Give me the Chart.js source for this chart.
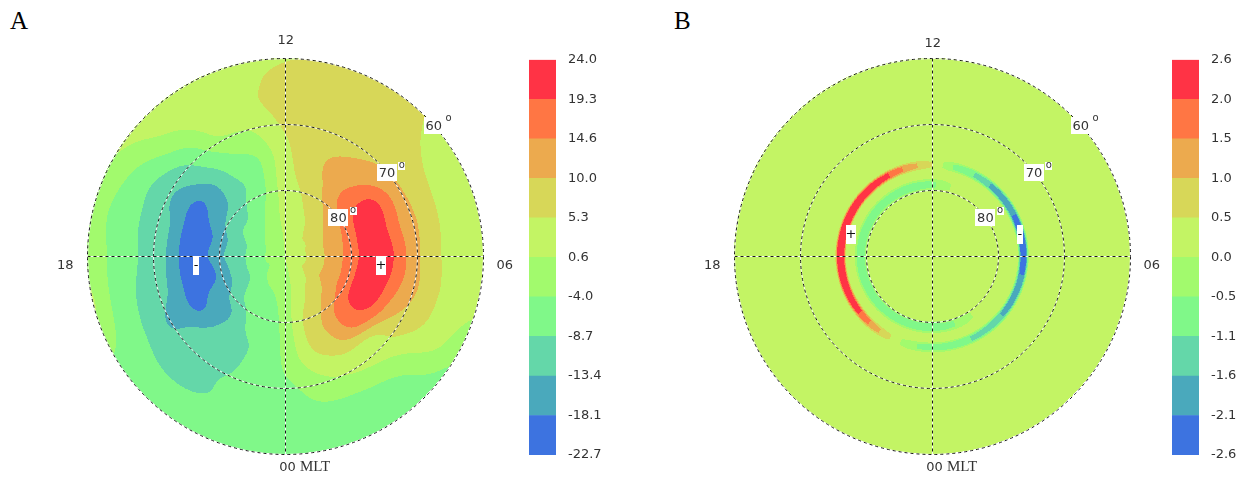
<!DOCTYPE html>
<html>
<head>
<meta charset="utf-8">
<script src="https://cdn.jsdelivr.net/npm/chart.js@4.4.1/dist/chart.umd.min.js"></script>
<style>
  body { margin: 0; background: #fff; width: 1238px; height: 481px; position: relative; overflow: hidden; }
  .holder { position: absolute; }
  .letter { position: absolute; font-family: "Liberation Serif", serif; font-size: 25px; color: #000; line-height: 1; }
</style>
</head>
<body>
<div class="letter" style="left:10px;top:8px">A</div>
<div class="letter" style="left:674px;top:8px">B</div>
<div class="holder" style="left:45px;top:0"><canvas id="mapA" width="480" height="481"></canvas></div>
<div class="holder" style="left:692px;top:0"><canvas id="mapB" width="480" height="481"></canvas></div>
<div class="holder" style="left:529px;top:40px"><canvas id="barA" width="77" height="440"></canvas></div>
<div class="holder" style="left:1172px;top:40px"><canvas id="barB" width="66" height="440"></canvas></div>
<script>
// --- data ---------------------------------------------------------------
const mltHours = [0, 1, 2, 3, 4, 5, 6, 7, 8, 9, 10, 11, 12, 13, 14, 15, 16, 17, 18, 19, 20, 21, 22, 23];

// panel A: potential, one row per colatitude ring (deg from pole), 24 MLT values each
const colatA = [0, 3, 6, 9, 12, 15, 18, 21, 24, 27, 30];
const potA = [
  [0.6, 0.6, 0.6, 0.6, 0.6, 0.6, 0.6, 0.6, 0.6, 0.6, 0.6, 0.6, 0.6, 0.6, 0.6, 0.6, 0.6, 0.6, 0.6, 0.6, 0.6, 0.6, 0.6, 0.6],
  [-1, 1, 3, 4, 5.3, 5, 5, 5, 4.5, 4.5, 3.5, 2.5, 1.5, -1, -1, -2.5, -3.5, -4, -4, -4, -4.5, -3, -2, -1.5],
  [-1.5, 2, 5.3, 7, 10, 10, 10, 10, 9, 7.5, 5.3, 3.5, 2.5, -1.5, -4, -6, -7, -8.7, -8.7, -8.7, -8.5, -6.5, -5, -4],
  [-2, 4.5, 8, 12, 14.6, 15, 15, 14.6, 13.5, 11, 8, 5, 3, -3, -6, -10, -11, -13.4, -13, -14, -13, -9, -7, -6],
  [-2.5, 5.5, 10.5, 16.5, 20.5, 21, 20.5, 20.5, 19.5, 15.5, 10.5, 6.5, 3.5, -4, -8.7, -13, -16, -19, -18.5, -20, -16, -14, -8.7, -7],
  [-3, 4.5, 9, 15, 19.5, 21, 22, 21, 21, 14.6, 12, 7.5, 4, -4, -7, -13.5, -19, -20, -20, -20, -19, -13.4, -10, -7.5],
  [-4, 1, 4, 4.5, 11, 14.6, 15.5, 14.6, 15, 11.5, 9.5, 7.6, 5, -1, -4, -10, -15, -13.5, -13.5, -14, -15, -11, -10, -7],
  [-6, -2, 0, 2, 7, 9.5, 9, 9.5, 9, 9, 8, 8, 6.5, 2, 0.6, -7, -11, -11, -10, -11, -13, -11, -9, -7],
  [-6.5, -5, -4.5, -2.5, 4, 5.3, 5, 5.3, 5.8, 7.5, 7.6, 8, 7.5, 4, 2.5, -2, -7, -7, -7, -8, -9, -10, -8.7, -6.5],
  [-6.5, -6, -6, -5, 1, 3, 3, 3, 3.5, 6, 7, 7, 7, 3.5, 3, 1.5, -3, -4.5, -4, -4.5, -6, -7, -7, -6],
  [-6, -6, -5, -6, -3, 1.5, 2, 2.5, 2.5, 5.3, 6, 5.5, 5, 2.5, 2.5, 2.5, 0.5, -2, -1, 1, -4, -6, -6, -6]
];
const levelsA = [-22.7, -18.1, -13.4, -8.7, -4.0, 0.6, 5.3, 10.0, 14.6, 19.3, 24.0];

// panel B: flat background with a thin inner ring and an outer arc pair
const colatB = [0, 9.8, 10.4, 11.2, 11.8, 13.0, 13.5, 14.2, 14.7, 30];
const backB = [0.2, 0.2, 0.2, 0.2, 0.2, 0.2, 0.2, 0.2, 0.2, 0.2, 0.2, 0.2, 0.2, 0.2, 0.2, 0.2, 0.2, 0.2, 0.2, 0.2, 0.2, 0.2, 0.2, 0.2];
const ringB = [-0.8, -0.6, -0.1, 0.2, 0.2, 0.2, 0.2, 0.2, 0.2, 0.2, 0.2, 0.0, -0.6, -0.8, -0.8, -0.8, -0.85, -0.9, -0.9, -0.9, -0.85, -0.8, -0.8, -0.8];
const arcB = [-0.7, -0.9, -1.2, -1.5, -1.8, -2.0, -2.5, -2.5, -2.0, -1.8, -1.2, -0.6, 0.5, 1.3, 2.1, 2.7, 3.0, 3.0, 3.0, 2.8, 2.4, 1.6, 0.7, -0.3];
const potB = [backB, backB, ringB, ringB, backB, backB, arcB, arcB, backB, backB];
const levelsB = [-2.6, -2.1, -1.6, -1.1, -0.5, 0.0, 0.5, 1.0, 1.5, 2.0, 2.6];

const bandColors = ["#3d73e0", "#4aa9bc", "#64d7a9", "#80f889", "#a2fa6d", "#c3f464", "#d7d758", "#ecaa4e", "#ff7644", "#ff3345"];

const latCircles = [80, 70, 60];
const latLabelMlt = [8.4, 8.63, 8.75];
const PX_PER_DEG = 6.6;

// --- helpers -------------------------------------------------------------
function cr(p0, p1, p2, p3, t) {
  return 0.5 * (2 * p1 + (-p0 + p2) * t + (2 * p0 - 5 * p1 + 4 * p2 - p3) * t * t + (-p0 + 3 * p1 - 3 * p2 + p3) * t * t * t);
}

// smooth along MLT (periodic); along colatitude cubic or linear
function sampleGrid(rows, colats, mlt, c, cubicColat) {
  let k = 0;
  while (k < colats.length - 2 && c > colats[k + 1]) k++;
  const t = Math.min(1, Math.max(0, (c - colats[k]) / (colats[k + 1] - colats[k])));
  const h = Math.floor(mlt), f = mlt - h;
  const ringAt = r => {
    const row = rows[Math.min(rows.length - 1, Math.max(0, r))];
    return cr(row[(h + 23) % 24], row[h % 24], row[(h + 1) % 24], row[(h + 2) % 24], f);
  };
  if (cubicColat) return cr(ringAt(k - 1), ringAt(k), ringAt(k + 1), ringAt(k + 2), t);
  return ringAt(k) * (1 - t) + ringAt(k + 1) * t;
}

function bandIndex(v, levels) {
  let idx = 0;
  for (let i = 1; i < levels.length - 1; i++) if (v >= levels[i]) idx = i;
  return idx;
}

function hexRgb(h) {
  return [parseInt(h.slice(1, 3), 16), parseInt(h.slice(3, 5), 16), parseInt(h.slice(5, 7), 16)];
}
const bandRgb = bandColors.map(hexRgb);

// MLT 0 at bottom, 06 right, 12 top, 18 left
function polarToData(colat, mlt) {
  const phi = mlt * Math.PI / 12;
  return { x: colat * Math.sin(phi), y: -colat * Math.cos(phi) };
}

function dashedPath(ctx, draw) {
  ctx.save();
  ctx.lineWidth = 1;
  ctx.setLineDash([]);
  ctx.strokeStyle = "rgba(255,255,255,0.9)";
  draw(); ctx.stroke();
  ctx.setLineDash([3, 3]);
  ctx.strokeStyle = "#1a1a1a";
  draw(); ctx.stroke();
  ctx.restore();
}

const fieldPlugin = {
  id: "field",
  beforeDatasetsDraw(chart, args, opts) {
    const { ctx, scales: { x, y } } = chart;
    const maxC = opts.colats[opts.colats.length - 1];
    const cx = x.getPixelForValue(0), cy = y.getPixelForValue(0);
    const R = x.getPixelForValue(maxC) - cx;
    const x0 = Math.floor(cx - R) - 1, y0 = Math.floor(cy - R) - 1;
    const size = Math.ceil(2 * R) + 3;
    const img = ctx.createImageData(size, size);
    for (let j = 0; j < size; j++) {
      const dy = y.getValueForPixel(y0 + j + 0.5);
      for (let i = 0; i < size; i++) {
        const dx = x.getValueForPixel(x0 + i + 0.5);
        const c = Math.hypot(dx, dy);
        if (c > maxC) continue;
        let mlt = Math.atan2(dx, -dy) * 12 / Math.PI;
        if (mlt < 0) mlt += 24;
        const v = sampleGrid(opts.rows, opts.colats, mlt, c, opts.cubicColat);
        const rgb = bandRgb[bandIndex(v, opts.levels)];
        const p = (j * size + i) * 4;
        img.data[p] = rgb[0]; img.data[p + 1] = rgb[1]; img.data[p + 2] = rgb[2]; img.data[p + 3] = 255;
      }
    }
    ctx.putImageData(img, x0, y0);
  },
  afterDatasetsDraw(chart, args, opts) {
    const { ctx, scales: { x, y } } = chart;
    const maxC = opts.colats[opts.colats.length - 1];
    const cx = Math.round(x.getPixelForValue(0)) + 0.5, cy = Math.round(y.getPixelForValue(0)) + 0.5;
    const px = (d) => x.getPixelForValue(d) - x.getPixelForValue(0);

    // cross hair
    const R = px(maxC);
    dashedPath(ctx, () => { ctx.beginPath(); ctx.moveTo(cx, cy - R); ctx.lineTo(cx, cy + R); });
    dashedPath(ctx, () => { ctx.beginPath(); ctx.moveTo(cx - R, cy); ctx.lineTo(cx + R, cy); });
    // latitude circles
    latCircles.forEach(lat => {
      const r = px(90 - lat);
      dashedPath(ctx, () => { ctx.beginPath(); ctx.arc(cx, cy, r, 0, Math.PI * 2); });
    });

    // latitude labels
    ctx.save();
    latCircles.forEach((lat, n) => {
      const p = polarToData(90 - lat, latLabelMlt[n]);
      const lx = x.getPixelForValue(p.x), ly = y.getPixelForValue(p.y);
      ctx.font = "13px 'DejaVu Sans', sans-serif";
      const t = String(lat);
      const w = ctx.measureText(t).width;
      ctx.fillStyle = "#fff";
      ctx.fillRect(Math.round(lx - w / 2 - 2), Math.round(ly - 8), Math.round(w + 3), 17);
      ctx.fillRect(Math.round(lx + w / 2 + 3), Math.round(ly - 10), 7, 8);
      ctx.fillStyle = "#333";
      ctx.textAlign = "center"; ctx.textBaseline = "middle";
      ctx.fillText(t, lx, ly + 1);
      ctx.font = "10px 'DejaVu Sans', sans-serif";
      ctx.fillText("o", lx + w / 2 + 6.5, ly - 7);
    });

    // MLT labels
    ctx.fillStyle = "#333";
    ctx.textAlign = "center"; ctx.textBaseline = "middle";
    opts.mltLabels.forEach(m => {
      const lx = x.getPixelForValue(m.x), ly = y.getPixelForValue(m.y);
      if (m.suffix) {
        ctx.font = "13px 'DejaVu Sans', sans-serif";
        const w1 = ctx.measureText(m.text).width;
        ctx.font = "15px 'Liberation Serif', serif";
        const w2 = ctx.measureText(m.suffix).width;
        const start = lx - (w1 + w2) / 2;
        ctx.textAlign = "left";
        ctx.font = "13px 'DejaVu Sans', sans-serif";
        ctx.fillText(m.text, start, ly);
        ctx.font = "15px 'Liberation Serif', serif";
        ctx.fillText(m.suffix, start + w1, ly);
        ctx.textAlign = "center";
      } else {
        ctx.font = "13px 'DejaVu Sans', sans-serif";
        ctx.fillText(m.text, lx, ly);
      }
    });

    // +/- markers
    opts.markers.forEach(m => {
      const p = polarToData(m.colat, m.mlt);
      const lx = x.getPixelForValue(p.x), ly = y.getPixelForValue(p.y);
      const w = m.sign === "+" ? 10 : 6;
      ctx.fillStyle = "#fff";
      ctx.fillRect(Math.round(lx - w / 2), Math.round(ly - 9.5), w, 19);
      ctx.fillStyle = "#111";
      ctx.font = "13px 'DejaVu Sans', sans-serif";
      ctx.fillText(m.sign, lx, ly);
    });
    ctx.restore();
  }
};

function makeMap(id, rows, colats, levels, cubicColat, markers, topLabelY) {
  const canvas = document.getElementById(id);
  const halfW = canvas.width / 2 / PX_PER_DEG;
  return new Chart(canvas, {
    type: "scatter",
    data: { datasets: [{ data: [] }] },
    options: {
      responsive: false,
      animation: false,
      events: [],
      layout: { padding: 0 },
      scales: {
        x: { type: "linear", display: false, min: -halfW, max: halfW },
        y: { type: "linear", display: false, min: -(canvas.height - 256) / PX_PER_DEG, max: 256 / PX_PER_DEG }
      },
      plugins: {
        legend: { display: false },
        tooltip: { enabled: false },
        field: {
          rows, colats, levels, markers, cubicColat,
          mltLabels: [
            { text: "12", x: 0.1, y: topLabelY },
            { text: "18", x: -33.3, y: -1.5 },
            { text: "06", x: 33.3, y: -1.5 },
            { text: "00 ", suffix: "MLT", x: 3.0, y: -32.0 }
          ]
        }
      }
    },
    plugins: [fieldPlugin]
  });
}

function makeColorbar(id, levels, axisWidth) {
  const datasets = bandColors.map((c, i) => ({
    data: [[i, i + 1]],
    backgroundColor: c,
    borderWidth: 0,
    grouped: false,
    barPercentage: 1,
    categoryPercentage: 1
  }));
  return new Chart(document.getElementById(id), {
    type: "bar",
    data: { labels: [""], datasets },
    options: {
      responsive: false,
      animation: false,
      events: [],
      layout: { padding: { top: 18, bottom: 25, left: 0, right: 0 } },
      plugins: { legend: { display: false }, tooltip: { enabled: false } },
      scales: {
        x: { display: false },
        y: {
          position: "right",
          min: 0,
          max: levels.length - 1,
          afterBuildTicks: s => { s.ticks = levels.map((_, i) => ({ value: i })); },
          afterFit: s => { s.width = axisWidth; },
          grid: { display: false, drawTicks: false },
          border: { display: false },
          ticks: {
            padding: 12,
            color: "#333",
            font: { family: "'DejaVu Sans', sans-serif", size: 13 },
            callback: v => levels[v].toFixed(1)
          }
        }
      }
    }
  });
}

makeMap("mapA", potA, colatA, levelsA, true, [
  { sign: "+", colat: 14.6, mlt: 5.62 },
  { sign: "-", colat: 13.56, mlt: 18.41 }
], 32.7);
makeMap("mapB", potB, colatB, levelsB, false, [
  { sign: "+", colat: 12.7, mlt: 17.0 },
  { sign: "-", colat: 13.7, mlt: 6.9 }
], 32.2);
makeColorbar("barA", levelsA, 50);
makeColorbar("barB", levelsB, 39);
</script>
</body>
</html>
